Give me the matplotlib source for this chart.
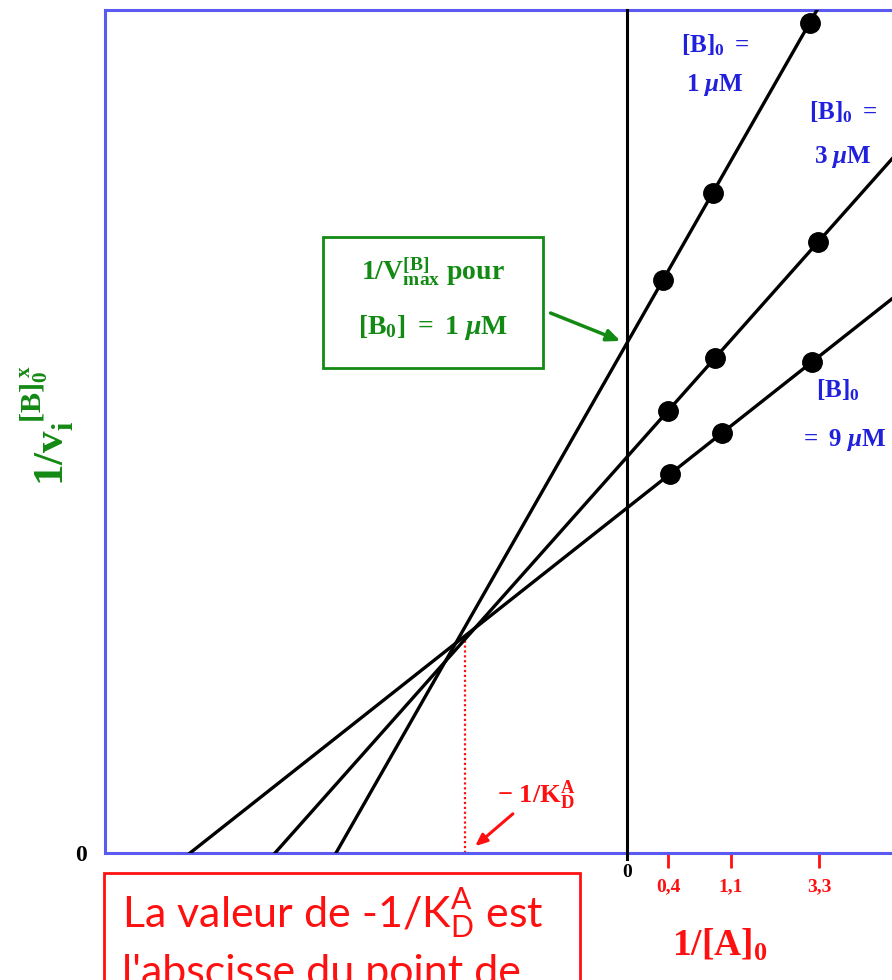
import numpy as np
import matplotlib
matplotlib.use('Agg')
import matplotlib.pyplot as plt
from matplotlib.patches import Rectangle

plt.rcParams['mathtext.fontset'] = 'custom'
plt.rcParams['mathtext.rm'] = 'Liberation Serif:bold'
plt.rcParams['mathtext.bf'] = 'Liberation Serif:bold'
plt.rcParams['mathtext.it'] = 'Liberation Serif:italic:bold'
plt.rcParams['font.family'] = ['Liberation Serif', 'DejaVu Sans']
plt.rcParams['font.weight'] = 'bold'

# ---- data (schematic Lineweaver-Burk units) ----
series_names = ['1 µM', '3 µM', '9 µM']
y_intercepts = [5.10, 3.96, 3.45]          # 1/Vmax for each [B]0
x_intercepts = [-2.91, -3.52, -4.37]       # x where each line meets y = 0
points_x = [[0.36, 0.86, 1.83],
            [0.41, 0.88, 1.91],
            [0.43, 0.95, 1.85]]
points_y = [[5.73, 6.60, 8.30],
            [4.42, 4.95, 6.11],
            [3.79, 4.20, 4.91]]
kd_x, kd_y = -1.62, 2.15                   # common intersection point
tick_pos = [0.41, 1.04, 1.92]
tick_labels = ['0,4', '1,1', '3,3']

RED = '#ff1010'
GREEN = '#138a13'
BLUE = '#2020dd'
FRAME = '#5a5af0'

fig = plt.figure(figsize=(8.92, 9.8), dpi=100)
ax = fig.add_axes([105/892, 1-853/980, (950-105)/892, 843/980])
ax.set_xlim(-5.22, 3.23)
ax.set_ylim(0, 8.43)

for s in ax.spines.values():
    s.set_color(FRAME)
    s.set_linewidth(2.2)

# vertical axis at x = 0
ax.plot([0, 0], [-0.06, 8.43], color='black', lw=2.2, clip_on=False, zorder=3)

# lines and points
for xi, yi, px, py in zip(x_intercepts, y_intercepts, points_x, points_y):
    xs = np.array([xi, 4.0])
    ys = yi * (1 - xs / xi)
    ax.plot(xs, ys, color='black', lw=2.4, zorder=4)
    ax.plot(px, py, 'o', color='black', ms=14, zorder=5)

# dotted red line at -1/KD
ax.plot([kd_x, kd_x], [0, kd_y], color=RED, lw=1.6, ls=(0, (1, 1.2)), zorder=2)

# ticks
ax.set_xticks(tick_pos)
ax.set_xticklabels(tick_labels)
ax.tick_params(axis='x', colors=RED, length=11, width=2, direction='out',
               labelsize=14, pad=7)
ax.set_yticks([0])
ax.set_yticklabels(['0'])
ax.tick_params(axis='y', length=0, labelsize=17, pad=13, colors='black')
ax.text(0, -0.19, '0', ha='center', va='center', fontsize=14, color='black')

# series labels
lab = dict(color=BLUE, fontsize=18, ha='center', va='center')
ax.text(0.88, 8.08, r'$\mathbf{[B]}_{\mathbf{0}}\ \mathbf{=}$', **lab)
ax.text(0.88, 7.68, r'$\mathbf{1}\ \mu\mathbf{M}$', **lab)
ax.text(2.16, 7.41, r'$\mathbf{[B]}_{\mathbf{0}}\ \mathbf{=}$', **lab)
ax.text(2.16, 6.96, r'$\mathbf{3}\ \mu\mathbf{M}$', **lab)
ax.text(2.11, 4.63, r'$\mathbf{[B]}_{\mathbf{0}}$', **lab)
ax.text(2.16, 4.13, r'$\mathbf{=\ 9}\ \mu\mathbf{M}$', **lab)

# green box annotation
ax.add_patch(Rectangle((-3.04, 4.85), 2.20, 1.31, facecolor='white',
                       edgecolor=GREEN, lw=2, zorder=6))
ax.text(-1.94, 5.81, r'$\mathbf{1/V}_{\mathbf{max}}^{\mathbf{[B]}}\ \mathbf{pour}$',
        color=GREEN, fontsize=20, ha='center', va='center', zorder=7)
ax.text(-1.94, 5.26, r'$\mathbf{[B}_{\mathbf{0}}\mathbf{]\ =\ 1}\ \mu\mathbf{M}$',
        color=GREEN, fontsize=20, ha='center', va='center', zorder=7)
ax.annotate('', xy=(-0.04, 5.11), xytext=(-0.79, 5.41),
            arrowprops=dict(arrowstyle='-|>,head_length=0.8,head_width=0.35',
                            color=GREEN, lw=2.5), zorder=7)

# -1/KD annotation
ax.text(-1.30, 0.58, r'$\mathbf{-\ 1/K}_{\mathbf{D}}^{\mathbf{A}}$', color=RED,
        fontsize=19, ha='left', va='center')
ax.annotate('', xy=(-1.54, 0.05), xytext=(-1.12, 0.41),
            arrowprops=dict(arrowstyle='-|>,head_length=0.7,head_width=0.3',
                            color=RED, lw=2.2))

# axis titles
fig.text(720/892, 1-945/980, r'$\mathbf{1/[A]}_{\mathbf{0}}$', color=RED,
         fontsize=27, ha='center', va='center')
fig.text(48/892, 1-425/980,
         r'$\mathbf{1/v}_{\mathbf{i}}^{\,\,\mathbf{[B]}_{\mathbf{0}}^{\,\,\mathbf{x}}}$',
         color=GREEN, fontsize=31, ha='center', va='center', rotation=90)

# red explanatory box
fig.patches.append(Rectangle((104/892, -0.1), (580-104)/892, 0.1 + (1-873/980),
                             transform=fig.transFigure, facecolor='white',
                             edgecolor=RED, lw=2))
fig.text(122/892, 1-928/980, r'La valeur de -1/K$_{\mathregular{D}}^{\mathregular{A}}$ est',
         family=['Lato', 'DejaVu Sans'], weight='normal', color=RED, fontsize=31,
         ha='left', va='baseline')
fig.text(122/892, 1-985/980, "l'abscisse du point de",
         family=['Lato', 'DejaVu Sans'], weight='normal', color=RED, fontsize=31,
         ha='left', va='baseline')

fig.savefig('out.png', dpi=100)
